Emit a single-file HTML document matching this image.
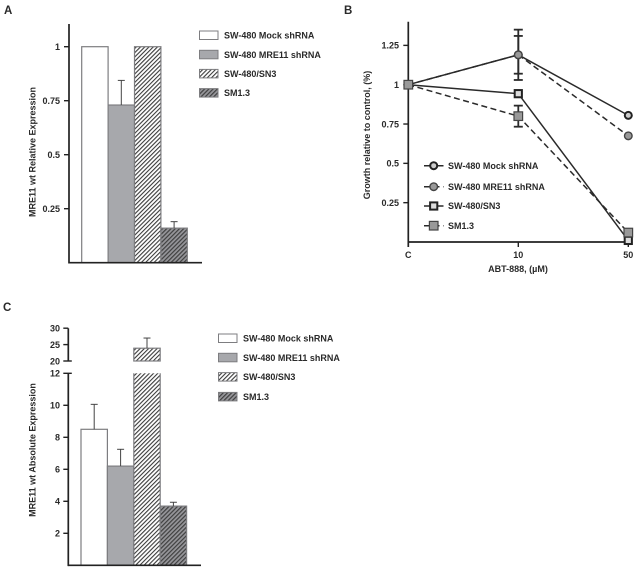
<!DOCTYPE html>
<html>
<head>
<meta charset="utf-8">
<style>
html,body{margin:0;padding:0;background:#fff;width:637px;height:570px;overflow:hidden}
svg{display:block;filter:blur(0.3px)}
text{font-family:"Liberation Sans",Arial,sans-serif;font-weight:bold;fill:#2a2a2a}
</style>
</head>
<body>
<svg id="fig" xmlns="http://www.w3.org/2000/svg" width="637" height="570" viewBox="0 0 637 570">
<defs>
<pattern id="hatch-light" patternUnits="userSpaceOnUse" width="3" height="3" patternTransform="rotate(45)">
<rect width="3" height="3" fill="#fff"/><rect width="1.1" height="3" fill="#3a3a3a"/>
</pattern>
<pattern id="hatch-dark" patternUnits="userSpaceOnUse" width="3" height="3" patternTransform="rotate(45)">
<rect width="3" height="3" fill="#96969a"/><rect width="1.2" height="3" fill="#3f3f3f"/>
</pattern>
</defs>
</svg>
<script>
const seriesNames = ['SW-480 Mock shRNA', 'SW-480 MRE11 shRNA', 'SW-480/SN3', 'SM1.3'];

const relativeValues = [1, 0.73, 1, 0.16];
const relativeErrorTops = [null, 0.844, null, 0.19];
const relativeTicks = [0.25, 0.5, 0.75, 1];

const growthCategories = ['C', '10', '50'];
const growthMock = [1, 1.19, 0.805];
const growthMre11 = [1, 1.19, 0.675];
const growthSn3 = [1, 0.943, 0.01];
const growthSm = [1, 0.8, 0.06];
const growthMockErr = [0, 0.16, 0];
const growthMre11Err = [0, 0.12, 0];
const growthSn3Err = [0, 0, 0];
const growthSmErr = [0, 0.067, 0];
const growthTicks = [0.25, 0.5, 0.75, 1, 1.25];

const absoluteValues = [8.5, 6.2, 23.9, 3.7];
const absoluteErrorTops = [10.06, 7.25, 27, 3.94];
const absoluteLowerTicks = [2, 4, 6, 8, 10, 12];
const absoluteUpperTicks = [20, 25, 30];

const NS = 'http://www.w3.org/2000/svg';
const fig = document.getElementById('fig');
const AXIS = '#222';
const EDGE = '#7d7d80';
const barFills = ['#fff', '#a7a8ac', 'url(#hatch-light)', 'url(#hatch-dark)'];

function mk(tag, attrs, txt) {
  const e = document.createElementNS(NS, tag);
  for (const k in attrs) e.setAttribute(k, attrs[k]);
  if (txt !== undefined) e.textContent = txt;
  fig.appendChild(e);
  return e;
}
function line(x1, y1, x2, y2, color, w, dash) {
  const a = {x1: x1, y1: y1, x2: x2, y2: y2, stroke: color, 'stroke-width': w};
  if (dash) a['stroke-dasharray'] = dash;
  return mk('line', a);
}
function fmt(v) { return String(v); }

/* ---------- Panel A ---------- */
const ax = {left: 69, base: 262.7, top: 24, right: 202, barStart: 81.7, barW: 26.4};
const yA = v => ax.base - v * 216;
let n;
n = mk('text', {x: 4, y: 14, 'font-size': 11.5}, 'A');


relativeValues.forEach((v, i) => {
  const x = ax.barStart + i * ax.barW;
  const r = mk('rect', {x: x, y: yA(v), width: ax.barW, height: ax.base - yA(v), fill: barFills[i], stroke: EDGE, 'stroke-width': 1.2});
  
  
  if (relativeErrorTops[i] !== null) {
    const cx = x + ax.barW / 2;
    const s = line(cx, yA(v), cx, yA(relativeErrorTops[i]), '#444', 1);
    
    
    const c = line(cx - 3.5, yA(relativeErrorTops[i]), cx + 3.5, yA(relativeErrorTops[i]), '#444', 1);
    
    
  }
});
n = line(ax.left, ax.top, ax.left, ax.base + 0.8, AXIS, 1.7);


n = line(ax.left, ax.base, ax.right, ax.base, AXIS, 1.7);


relativeTicks.forEach(t => {
  const k = line(ax.left - 5, yA(t), ax.left, yA(t), AXIS, 1.4);
  
  
  const l = mk('text', {x: 60, y: yA(t) + 3.3, 'font-size': 9, 'text-anchor': 'end'}, fmt(t));
  
  
});
n = mk('text', {transform: 'translate(35.5,152) rotate(-90)', 'font-size': 9, 'text-anchor': 'middle'}, 'MRE11 wt Relative Expression');



function barLegend(x, ys, prefix) {
  seriesNames.forEach((name, i) => {
    const b = mk('rect', {x: x, y: ys[i], width: 18.5, height: 8.5, fill: barFills[i], stroke: EDGE, 'stroke-width': 1});
    
    
    const t = mk('text', {x: x + 24.5, y: ys[i] + 7.5, 'font-size': 9}, name);
    
    
  });
}
barLegend(199.5, [31, 50.3, 69.4, 88.6], 'panel-a');

/* ---------- Panel B ---------- */
const bx = {left: 408.3, base: 242, top: 21.7, right: 628.3};
const yB = v => bx.base - v * 157.3;
const xB = i => bx.left + i * (bx.right - bx.left) / (growthCategories.length - 1);
n = mk('text', {x: 344, y: 14, 'font-size': 11.5}, 'B');



n = line(bx.left, bx.top, bx.left, bx.base + 5, AXIS, 1.7);


n = line(bx.left, bx.base, bx.right, bx.base, AXIS, 1.7);


growthTicks.forEach(t => {
  const k = line(bx.left - 5, yB(t), bx.left, yB(t), AXIS, 1.4);
  
  
  const l = mk('text', {x: 399, y: yB(t) + 3.3, 'font-size': 9, 'text-anchor': 'end'}, fmt(t));
  
  
});
growthCategories.forEach((c, i) => {
  const k = line(xB(i), bx.base, xB(i), bx.base + 5, AXIS, 1.4);
  
  
  const l = mk('text', {x: xB(i), y: 258, 'font-size': 9, 'text-anchor': 'middle'}, c);
  
  
});
n = mk('text', {transform: 'translate(370,135) rotate(-90)', 'font-size': 9, 'text-anchor': 'middle'}, 'Growth relative to control, (%)');


n = mk('text', {x: 518, y: 272, 'font-size': 9, 'text-anchor': 'middle'}, 'ABT-888, (\u00B5M)');



function marker(kind, x, y) {
  let m;
  if (kind === 'open-circle') m = mk('circle', {cx: x, cy: y, r: 3.5, fill: '#ccc', stroke: '#222', 'stroke-width': 2});
  if (kind === 'gray-circle') m = mk('circle', {cx: x, cy: y, r: 3.8, fill: '#999', stroke: '#444', 'stroke-width': 1.4});
  if (kind === 'open-square') m = mk('rect', {x: x - 3.6, y: y - 3.6, width: 7.2, height: 7.2, fill: '#ddd', stroke: '#222', 'stroke-width': 2});
  if (kind === 'gray-square') m = mk('rect', {x: x - 4.3, y: y - 4.3, width: 8.6, height: 8.6, fill: '#999', stroke: '#444', 'stroke-width': 1.2});
  
  
  return m;
}
const growthSeries = [
  {vals: growthMock, errs: growthMockErr, kind: 'open-circle', dash: null},
  {vals: growthMre11, errs: growthMre11Err, kind: 'gray-circle', dash: '6 3.5'},
  {vals: growthSn3, errs: growthSn3Err, kind: 'open-square', dash: null},
  {vals: growthSm, errs: growthSmErr, kind: 'gray-square', dash: '6 3.5'}
];
growthSeries.forEach(s => {
  s.errs.forEach((e, i) => {
    if (!e) return;
    const x = xB(i), hi = yB(s.vals[i] + e), lo = yB(s.vals[i] - e);
    const w = line(x, hi, x, lo, '#2a2a2a', 1.8);
    
    
    const c1 = line(x - 4.5, hi, x + 4.5, hi, '#2a2a2a', 1.8);
    
    
    const c2 = line(x - 4.5, lo, x + 4.5, lo, '#2a2a2a', 1.8);
    
    
  });
  const pts = s.vals.map((v, i) => xB(i) + ',' + yB(v)).join(' ');
  const attrs = {points: pts, fill: 'none', stroke: '#2a2a2a', 'stroke-width': 1.5};
  if (s.dash) attrs['stroke-dasharray'] = s.dash;
  const p = mk('polyline', attrs);
  
  
});
growthSeries.forEach(s => {
  s.vals.forEach((v, i) => marker(s.kind, xB(i), yB(v)));
});
const bLegendY = [165.7, 186.7, 206, 225.7];
seriesNames.forEach((name, i) => {
  const s = growthSeries[i];
  const ln = line(424, bLegendY[i], 443.5, bLegendY[i], '#2a2a2a', 1.5, s.dash ? '6 3.5' : null);
  
  
  marker(s.kind, 433.7, bLegendY[i]);
  const t = mk('text', {x: 448, y: bLegendY[i] + 3.2, 'font-size': 9}, name);
  
  
});

/* ---------- Panel C ---------- */
const cx0 = {left: 68.3, base: 565.3, right: 201, barStart: 81, barW: 26.4, top: 328.3, breakLow: 373.7, breakHigh: 361};
const yCL = v => cx0.base - v * 16;
const yCU = v => cx0.breakHigh - (v - 20) * 3.28;
const yC = v => v <= 12 ? yCL(v) : yCU(v);
n = mk('text', {x: 3, y: 311, 'font-size': 11.5}, 'C');


absoluteValues.forEach((v, i) => {
  const x = cx0.barStart + i * cx0.barW;
  if (v > 12) {
    const up = mk('rect', {x: x, y: yCU(v), width: cx0.barW, height: cx0.breakHigh - yCU(v), fill: barFills[i], stroke: EDGE, 'stroke-width': 1.2});
    
    
  }
  const topY = yCL(Math.min(v, 12));
  const r = mk('rect', {x: x, y: topY, width: cx0.barW, height: cx0.base - topY, fill: barFills[i], stroke: v > 12 ? 'none' : EDGE, 'stroke-width': 1.2});
  
  
  if (v > 12) {
    const e1 = line(x, topY, x, cx0.base, EDGE, 1.2);
    
    
    const e2 = line(x + cx0.barW, topY, x + cx0.barW, cx0.base, EDGE, 1.2);
    
    
  }
  const cx = x + cx0.barW / 2;
  const s = line(cx, yC(v), cx, yC(absoluteErrorTops[i]), '#444', 1);
  
  
  const c = line(cx - 3.5, yC(absoluteErrorTops[i]), cx + 3.5, yC(absoluteErrorTops[i]), '#444', 1);
  
  
});
n = line(cx0.left, cx0.breakLow, cx0.left, cx0.base + 0.8, AXIS, 1.7);


n = line(cx0.left, cx0.top, cx0.left, cx0.breakHigh, AXIS, 1.7);


n = line(cx0.left, cx0.base, cx0.right, cx0.base, AXIS, 1.7);


absoluteLowerTicks.concat(absoluteUpperTicks).forEach(t => {
  const k = line(cx0.left - 5, yC(t), cx0.left + (t === 12 || t === 20 ? 3.5 : 0), yC(t), AXIS, 1.4);
  
  
  const l = mk('text', {x: 60, y: yC(t) + 3.3, 'font-size': 9, 'text-anchor': 'end'}, fmt(t));
  
  
});
n = mk('text', {transform: 'translate(35.5,450) rotate(-90)', 'font-size': 9, 'text-anchor': 'middle'}, 'MRE11 wt Absolute Expression');


barLegend(218.5, [334, 353.3, 372.6, 392.4], 'panel-c');
</script>
</body>
</html>
